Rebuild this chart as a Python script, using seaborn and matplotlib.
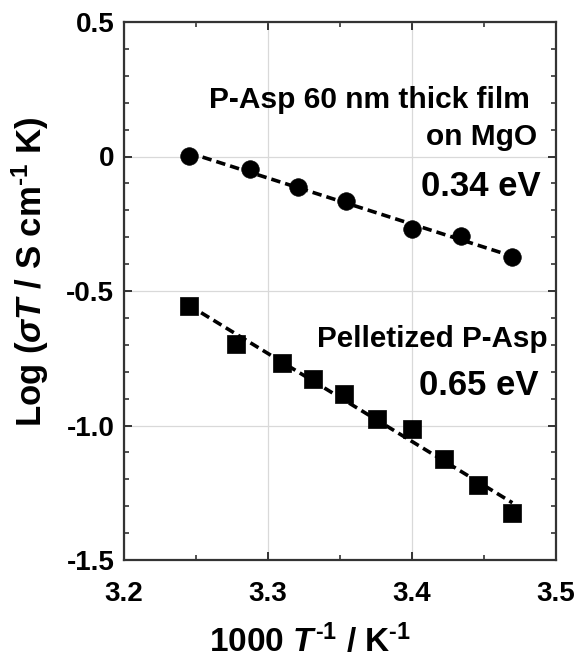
import numpy as np
import pandas as pd
import matplotlib
matplotlib.use("Agg")
import matplotlib.pyplot as plt
import seaborn as sns

# ---- data ----
film_x = [3.245, 3.2875, 3.3206, 3.354, 3.3998, 3.434, 3.4697]
film_y = [0.003, -0.046, -0.115, -0.164, -0.270, -0.297, -0.375]

pellet_x = [3.245, 3.2776, 3.310, 3.3315, 3.3528, 3.376, 3.3998, 3.4222, 3.446, 3.4697]
pellet_y = [-0.554, -0.696, -0.767, -0.826, -0.882, -0.975, -1.014, -1.126, -1.222, -1.324]

x_ticks = [3.2, 3.3, 3.4, 3.5]
x_ticklabels = ["3.2", "3.3", "3.4", "3.5"]
y_ticks = [0.5, 0.0, -0.5, -1.0, -1.5]
y_ticklabels = ["0.5", "0", "-0.5", "-1.0", "-1.5"]

film_label_1 = "P-Asp 60 nm thick film"
film_label_2 = "on MgO"
film_ea = "0.34 eV"
pellet_label = "Pelletized P-Asp"
pellet_ea = "0.65 eV"

df_film = pd.DataFrame({"x": film_x, "y": film_y})
df_pellet = pd.DataFrame({"x": pellet_x, "y": pellet_y})

sns.set_theme(style="white")
plt.rcParams["font.family"] = ["Liberation Sans", "DejaVu Sans"]
plt.rcParams["font.weight"] = "bold"
plt.rcParams["text.color"] = "black"
plt.rcParams["axes.labelcolor"] = "black"
plt.rcParams["mathtext.fontset"] = "custom"
plt.rcParams["mathtext.rm"] = "Liberation Sans:bold"
plt.rcParams["mathtext.it"] = "Liberation Sans:italic:bold"
plt.rcParams["mathtext.bf"] = "Liberation Sans:bold"

fig = plt.figure(figsize=(5.82, 6.64), dpi=100)
ax = fig.add_axes([124 / 582, 1 - 560 / 664, (556 - 124) / 582, (560 - 22) / 664])

dash_kw = dict(color="black", linewidth=2.6, linestyle=(0, (2.6, 1.4)), zorder=3)
sns.regplot(data=df_film, x="x", y="y", scatter=False, ci=None, ax=ax, line_kws=dash_kw)
sns.regplot(data=df_pellet, x="x", y="y", scatter=False, ci=None, ax=ax, line_kws=dash_kw)

sns.scatterplot(data=df_film, x="x", y="y", marker="o", s=160, color="black",
                edgecolor="black", linewidth=0.5, ax=ax, zorder=4)
sns.scatterplot(data=df_pellet, x="x", y="y", marker="s", s=175, color="black",
                edgecolor="black", linewidth=0.5, ax=ax, zorder=4)

ax.set_xlim(3.2, 3.5)
ax.set_ylim(-1.5, 0.5)
ax.set_xticks(x_ticks)
ax.set_xticklabels(x_ticklabels)
ax.set_yticks(y_ticks)
ax.set_yticklabels(y_ticklabels)
ax.set_xticks([3.25, 3.35, 3.45], minor=True)
ax.set_yticks(np.arange(-1.4, 0.45, 0.1), minor=True)

ax.grid(True, which="major", color="#d9d9d9", linewidth=0.9, zorder=0)
ax.set_axisbelow(True)

ax.tick_params(which="both", direction="in", top=True, right=True,
               bottom=True, left=True, colors="#333333", labelcolor="black")
ax.tick_params(which="major", length=6, width=1.4, labelsize=20)
ax.tick_params(axis="x", which="major", pad=15)
ax.tick_params(axis="y", which="major", pad=7)
ax.tick_params(which="minor", length=3.5, width=1.2)
for lab in ax.get_xticklabels() + ax.get_yticklabels():
    lab.set_fontweight("bold")

for sp in ax.spines.values():
    sp.set_color("#333333")
    sp.set_linewidth(1.6)

ax.set_xlabel("1000 $\\mathit{T}^{\\text{-1}}$ / K$^{\\text{-1}}$", fontsize=24,
              fontweight="bold", va="center", ha="center")
ax.set_ylabel("Log ($\\mathit{\\sigma T}$ / S cm$^{\\text{-1}}$ K)", fontsize=25,
              fontweight="bold", va="center", ha="center")
ax.xaxis.set_label_coords((310 - 124) / 432, -(641 - 560) / 538)
ax.yaxis.set_label_coords(-(124 - 30) / 432, (560 - 272) / 538)

ax.text(3.482, 0.210, film_label_1, ha="right", va="center", fontsize=21.5,
        fontweight="bold", zorder=5)
ax.text(3.4868, 0.073, film_label_2, ha="right", va="center", fontsize=21.5,
        fontweight="bold", zorder=5)
ax.text(3.489, -0.112, film_ea, ha="right", va="center", fontsize=25,
        fontweight="bold", zorder=5)
ax.text(3.4944, -0.68, pellet_label, ha="right", va="center", fontsize=21.3,
        fontweight="bold", zorder=5)
ax.text(3.488, -0.851, pellet_ea, ha="right", va="center", fontsize=25,
        fontweight="bold", zorder=5)

fig.savefig("out.png", dpi=100)
